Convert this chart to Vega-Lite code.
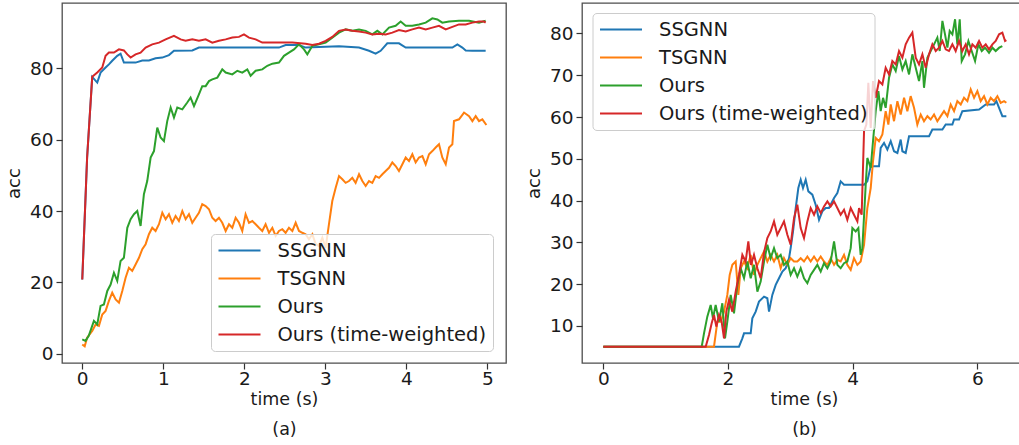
{
  "$schema": "https://vega.github.io/schema/vega-lite/v6.json",
  "padding": {"left": 4, "top": 2, "right": 0, "bottom": 0},
  "config": {
    "font": "DejaVu Sans",
    "view": {"stroke": "#4d4d4d", "strokeWidth": 1.3},
    "axis": {"grid": false, "domain": false, "tickColor": "#333333", "tickSize": 6, "tickWidth": 1.2, "labelFontSize": 18.5, "labelColor": "#1a1a1a", "labelPadding": 3, "titleFontSize": 18, "titleFontWeight": "normal", "titleColor": "#1a1a1a", "labelFlush": false, "labelOverlap": false},
    "axisY": {"titlePadding": 7, "minExtent": 32, "maxExtent": 32},
    "axisX": {"labelPadding": 0, "titlePadding": 3, "titleLineHeight": 30, "titleFontSize": 17.5},
    "legend": {"symbolType": "stroke", "symbolSize": 1764, "symbolStrokeWidth": 2, "labelFontSize": 19.5, "labelOffset": 16, "padding": 6.5, "rowPadding": 8, "clipHeight": 20, "fillColor": "rgba(255,255,255,0.8)", "strokeColor": "#cccccc", "cornerRadius": 4, "labelColor": "#1a1a1a", "labelLimit": 320}
  },
  "datasets": {
    "a": [
      {"m":"SSGNN","t":0,"a":20.8},{"m":"SSGNN","t":0.06,"a":55},{"m":"SSGNN","t":0.123,"a":77.6},{"m":"SSGNN","t":0.185,"a":76.0},{"m":"SSGNN","t":0.226,"a":78.8},{"m":"SSGNN","t":0.288,"a":80.2},{"m":"SSGNN","t":0.329,"a":81.1},{"m":"SSGNN","t":0.37,"a":82.1},{"m":"SSGNN","t":0.432,"a":83.5},{"m":"SSGNN","t":0.473,"a":84.1},{"m":"SSGNN","t":0.514,"a":81.6},{"m":"SSGNN","t":0.576,"a":81.6},{"m":"SSGNN","t":0.658,"a":81.6},{"m":"SSGNN","t":0.741,"a":82.2},{"m":"SSGNN","t":0.823,"a":82.2},{"m":"SSGNN","t":0.905,"a":82.8},{"m":"SSGNN","t":0.988,"a":83.0},{"m":"SSGNN","t":1.07,"a":83.7},{"m":"SSGNN","t":1.132,"a":84.9},{"m":"SSGNN","t":1.358,"a":85.0},{"m":"SSGNN","t":1.44,"a":85.8},{"m":"SSGNN","t":2.428,"a":85.8},{"m":"SSGNN","t":2.51,"a":86.5},{"m":"SSGNN","t":2.675,"a":86.5},{"m":"SSGNN","t":2.757,"a":85.8},{"m":"SSGNN","t":3.169,"a":86.2},{"m":"SSGNN","t":3.416,"a":85.8},{"m":"SSGNN","t":3.539,"a":84.9},{"m":"SSGNN","t":3.621,"a":84.1},{"m":"SSGNN","t":3.683,"a":84.9},{"m":"SSGNN","t":3.765,"a":87.0},{"m":"SSGNN","t":3.909,"a":87.0},{"m":"SSGNN","t":3.992,"a":85.8},{"m":"SSGNN","t":4.568,"a":85.8},{"m":"SSGNN","t":4.63,"a":86.7},{"m":"SSGNN","t":4.691,"a":85.8},{"m":"SSGNN","t":4.733,"a":85.0},{"m":"SSGNN","t":4.815,"a":84.9},{"m":"SSGNN","t":4.979,"a":84.9},
      {"m":"TSGNN","t":0,"a":2.6},{"m":"TSGNN","t":0.03,"a":2.1},{"m":"TSGNN","t":0.06,"a":4.5},{"m":"TSGNN","t":0.123,"a":6.4},{"m":"TSGNN","t":0.165,"a":8.2},{"m":"TSGNN","t":0.206,"a":7.8},{"m":"TSGNN","t":0.247,"a":11.0},{"m":"TSGNN","t":0.288,"a":12.0},{"m":"TSGNN","t":0.329,"a":14.8},{"m":"TSGNN","t":0.37,"a":17.1},{"m":"TSGNN","t":0.412,"a":15.2},{"m":"TSGNN","t":0.453,"a":14.3},{"m":"TSGNN","t":0.494,"a":17.6},{"m":"TSGNN","t":0.535,"a":21.3},{"m":"TSGNN","t":0.576,"a":24.1},{"m":"TSGNN","t":0.617,"a":23.2},{"m":"TSGNN","t":0.658,"a":25.0},{"m":"TSGNN","t":0.7,"a":26.9},{"m":"TSGNN","t":0.741,"a":29.3},{"m":"TSGNN","t":0.782,"a":30.7},{"m":"TSGNN","t":0.823,"a":33.5},{"m":"TSGNN","t":0.864,"a":35.3},{"m":"TSGNN","t":0.905,"a":34.4},{"m":"TSGNN","t":0.947,"a":36.3},{"m":"TSGNN","t":0.988,"a":39.5},{"m":"TSGNN","t":1.029,"a":37.7},{"m":"TSGNN","t":1.07,"a":39.1},{"m":"TSGNN","t":1.111,"a":36.7},{"m":"TSGNN","t":1.152,"a":38.6},{"m":"TSGNN","t":1.193,"a":37.2},{"m":"TSGNN","t":1.235,"a":40.0},{"m":"TSGNN","t":1.276,"a":37.7},{"m":"TSGNN","t":1.317,"a":39.1},{"m":"TSGNN","t":1.358,"a":36.7},{"m":"TSGNN","t":1.399,"a":38.1},{"m":"TSGNN","t":1.44,"a":39.5},{"m":"TSGNN","t":1.481,"a":41.9},{"m":"TSGNN","t":1.523,"a":41.4},{"m":"TSGNN","t":1.564,"a":40.5},{"m":"TSGNN","t":1.605,"a":38.1},{"m":"TSGNN","t":1.646,"a":37.2},{"m":"TSGNN","t":1.687,"a":38.1},{"m":"TSGNN","t":1.728,"a":36.7},{"m":"TSGNN","t":1.77,"a":34.4},{"m":"TSGNN","t":1.811,"a":36.3},{"m":"TSGNN","t":1.852,"a":35.3},{"m":"TSGNN","t":1.893,"a":38.1},{"m":"TSGNN","t":1.934,"a":36.7},{"m":"TSGNN","t":1.975,"a":34.4},{"m":"TSGNN","t":2.016,"a":39.1},{"m":"TSGNN","t":2.058,"a":36.7},{"m":"TSGNN","t":2.099,"a":37.2},{"m":"TSGNN","t":2.14,"a":36.3},{"m":"TSGNN","t":2.181,"a":35.3},{"m":"TSGNN","t":2.222,"a":34.4},{"m":"TSGNN","t":2.263,"a":36.3},{"m":"TSGNN","t":2.305,"a":33.9},{"m":"TSGNN","t":2.346,"a":35.3},{"m":"TSGNN","t":2.387,"a":33.0},{"m":"TSGNN","t":2.428,"a":34.4},{"m":"TSGNN","t":2.469,"a":34.9},{"m":"TSGNN","t":2.51,"a":33.9},{"m":"TSGNN","t":2.551,"a":35.3},{"m":"TSGNN","t":2.593,"a":34.4},{"m":"TSGNN","t":2.634,"a":36.7},{"m":"TSGNN","t":2.675,"a":34.4},{"m":"TSGNN","t":2.716,"a":33.9},{"m":"TSGNN","t":2.757,"a":33.5},{"m":"TSGNN","t":2.798,"a":32.1},{"m":"TSGNN","t":2.84,"a":33.5},{"m":"TSGNN","t":2.881,"a":30.7},{"m":"TSGNN","t":2.922,"a":30.2},{"m":"TSGNN","t":2.963,"a":32.5},{"m":"TSGNN","t":3.004,"a":29.7},{"m":"TSGNN","t":3.045,"a":36.3},{"m":"TSGNN","t":3.086,"a":42.8},{"m":"TSGNN","t":3.128,"a":46.5},{"m":"TSGNN","t":3.169,"a":49.8},{"m":"TSGNN","t":3.21,"a":48.9},{"m":"TSGNN","t":3.251,"a":47.9},{"m":"TSGNN","t":3.292,"a":48.4},{"m":"TSGNN","t":3.333,"a":49.3},{"m":"TSGNN","t":3.374,"a":47.9},{"m":"TSGNN","t":3.416,"a":50.3},{"m":"TSGNN","t":3.457,"a":48.4},{"m":"TSGNN","t":3.498,"a":47.0},{"m":"TSGNN","t":3.539,"a":48.4},{"m":"TSGNN","t":3.58,"a":47.9},{"m":"TSGNN","t":3.621,"a":49.8},{"m":"TSGNN","t":3.663,"a":49.3},{"m":"TSGNN","t":3.704,"a":50.3},{"m":"TSGNN","t":3.745,"a":51.2},{"m":"TSGNN","t":3.786,"a":52.1},{"m":"TSGNN","t":3.827,"a":53.6},{"m":"TSGNN","t":3.868,"a":52.6},{"m":"TSGNN","t":3.909,"a":51.2},{"m":"TSGNN","t":3.951,"a":53.1},{"m":"TSGNN","t":3.992,"a":55.0},{"m":"TSGNN","t":4.033,"a":54.0},{"m":"TSGNN","t":4.074,"a":55.9},{"m":"TSGNN","t":4.115,"a":53.6},{"m":"TSGNN","t":4.156,"a":55.0},{"m":"TSGNN","t":4.198,"a":55.4},{"m":"TSGNN","t":4.239,"a":53.1},{"m":"TSGNN","t":4.28,"a":55.9},{"m":"TSGNN","t":4.321,"a":56.8},{"m":"TSGNN","t":4.362,"a":57.8},{"m":"TSGNN","t":4.403,"a":58.7},{"m":"TSGNN","t":4.444,"a":55.0},{"m":"TSGNN","t":4.486,"a":53.1},{"m":"TSGNN","t":4.527,"a":57.8},{"m":"TSGNN","t":4.568,"a":58.7},{"m":"TSGNN","t":4.588,"a":65.2},{"m":"TSGNN","t":4.65,"a":65.7},{"m":"TSGNN","t":4.712,"a":67.6},{"m":"TSGNN","t":4.774,"a":66.6},{"m":"TSGNN","t":4.815,"a":65.2},{"m":"TSGNN","t":4.856,"a":66.6},{"m":"TSGNN","t":4.897,"a":65.2},{"m":"TSGNN","t":4.938,"a":65.7},{"m":"TSGNN","t":4.988,"a":64.1},
      {"m":"Ours","t":0,"a":4.0},{"m":"Ours","t":0.04,"a":3.6},{"m":"Ours","t":0.08,"a":5.0},{"m":"Ours","t":0.144,"a":9.2},{"m":"Ours","t":0.185,"a":8.2},{"m":"Ours","t":0.226,"a":13.4},{"m":"Ours","t":0.267,"a":13.8},{"m":"Ours","t":0.309,"a":17.6},{"m":"Ours","t":0.35,"a":19.4},{"m":"Ours","t":0.391,"a":22.7},{"m":"Ours","t":0.432,"a":20.4},{"m":"Ours","t":0.473,"a":26.0},{"m":"Ours","t":0.514,"a":26.9},{"m":"Ours","t":0.556,"a":35.3},{"m":"Ours","t":0.597,"a":37.7},{"m":"Ours","t":0.638,"a":39.1},{"m":"Ours","t":0.679,"a":40.0},{"m":"Ours","t":0.72,"a":35.8},{"m":"Ours","t":0.761,"a":44.7},{"m":"Ours","t":0.802,"a":48.4},{"m":"Ours","t":0.844,"a":55.0},{"m":"Ours","t":0.885,"a":56.8},{"m":"Ours","t":0.926,"a":63.4},{"m":"Ours","t":0.967,"a":60.6},{"m":"Ours","t":1.008,"a":59.6},{"m":"Ours","t":1.049,"a":65.2},{"m":"Ours","t":1.091,"a":69.0},{"m":"Ours","t":1.132,"a":66.2},{"m":"Ours","t":1.173,"a":69.0},{"m":"Ours","t":1.235,"a":68.5},{"m":"Ours","t":1.296,"a":70.4},{"m":"Ours","t":1.337,"a":71.8},{"m":"Ours","t":1.379,"a":69.4},{"m":"Ours","t":1.44,"a":72.7},{"m":"Ours","t":1.481,"a":75.0},{"m":"Ours","t":1.523,"a":75.0},{"m":"Ours","t":1.564,"a":76.4},{"m":"Ours","t":1.605,"a":76.9},{"m":"Ours","t":1.667,"a":77.4},{"m":"Ours","t":1.728,"a":79.7},{"m":"Ours","t":1.77,"a":78.8},{"m":"Ours","t":1.852,"a":78.3},{"m":"Ours","t":1.914,"a":79.3},{"m":"Ours","t":1.975,"a":78.8},{"m":"Ours","t":2.037,"a":79.7},{"m":"Ours","t":2.078,"a":77.9},{"m":"Ours","t":2.14,"a":79.3},{"m":"Ours","t":2.222,"a":79.7},{"m":"Ours","t":2.284,"a":80.7},{"m":"Ours","t":2.346,"a":81.3},{"m":"Ours","t":2.428,"a":81.6},{"m":"Ours","t":2.49,"a":83.5},{"m":"Ours","t":2.551,"a":84.4},{"m":"Ours","t":2.613,"a":85.3},{"m":"Ours","t":2.675,"a":86.7},{"m":"Ours","t":2.737,"a":85.3},{"m":"Ours","t":2.778,"a":83.9},{"m":"Ours","t":2.84,"a":86.3},{"m":"Ours","t":2.922,"a":86.7},{"m":"Ours","t":3.004,"a":87.2},{"m":"Ours","t":3.086,"a":88.6},{"m":"Ours","t":3.169,"a":90.0},{"m":"Ours","t":3.251,"a":90.9},{"m":"Ours","t":3.333,"a":90.5},{"m":"Ours","t":3.416,"a":90.9},{"m":"Ours","t":3.498,"a":90.5},{"m":"Ours","t":3.58,"a":89.5},{"m":"Ours","t":3.642,"a":90.5},{"m":"Ours","t":3.704,"a":89.5},{"m":"Ours","t":3.786,"a":91.4},{"m":"Ours","t":3.868,"a":91.9},{"m":"Ours","t":3.93,"a":93.1},{"m":"Ours","t":3.992,"a":91.9},{"m":"Ours","t":4.074,"a":91.9},{"m":"Ours","t":4.156,"a":92.3},{"m":"Ours","t":4.239,"a":92.8},{"m":"Ours","t":4.321,"a":94.0},{"m":"Ours","t":4.383,"a":93.7},{"m":"Ours","t":4.444,"a":92.8},{"m":"Ours","t":4.527,"a":93.1},{"m":"Ours","t":4.65,"a":93.3},{"m":"Ours","t":4.774,"a":93.3},{"m":"Ours","t":4.897,"a":92.8},{"m":"Ours","t":4.979,"a":93.3},
      {"m":"Ours (time-weighted)","t":0,"a":20.8},{"m":"Ours (time-weighted)","t":0.06,"a":55},{"m":"Ours (time-weighted)","t":0.123,"a":77.6},{"m":"Ours (time-weighted)","t":0.185,"a":78.8},{"m":"Ours (time-weighted)","t":0.247,"a":80.2},{"m":"Ours (time-weighted)","t":0.288,"a":83.5},{"m":"Ours (time-weighted)","t":0.329,"a":84.4},{"m":"Ours (time-weighted)","t":0.391,"a":84.4},{"m":"Ours (time-weighted)","t":0.453,"a":85.3},{"m":"Ours (time-weighted)","t":0.514,"a":85.0},{"m":"Ours (time-weighted)","t":0.556,"a":83.9},{"m":"Ours (time-weighted)","t":0.597,"a":83.0},{"m":"Ours (time-weighted)","t":0.658,"a":83.9},{"m":"Ours (time-weighted)","t":0.72,"a":84.4},{"m":"Ours (time-weighted)","t":0.782,"a":85.8},{"m":"Ours (time-weighted)","t":0.864,"a":86.7},{"m":"Ours (time-weighted)","t":0.947,"a":87.2},{"m":"Ours (time-weighted)","t":1.029,"a":88.1},{"m":"Ours (time-weighted)","t":1.132,"a":89.1},{"m":"Ours (time-weighted)","t":1.214,"a":88.1},{"m":"Ours (time-weighted)","t":1.276,"a":87.7},{"m":"Ours (time-weighted)","t":1.358,"a":88.1},{"m":"Ours (time-weighted)","t":1.44,"a":87.7},{"m":"Ours (time-weighted)","t":1.523,"a":88.1},{"m":"Ours (time-weighted)","t":1.605,"a":87.2},{"m":"Ours (time-weighted)","t":1.687,"a":87.7},{"m":"Ours (time-weighted)","t":1.77,"a":88.1},{"m":"Ours (time-weighted)","t":1.852,"a":88.6},{"m":"Ours (time-weighted)","t":1.934,"a":88.8},{"m":"Ours (time-weighted)","t":1.996,"a":89.5},{"m":"Ours (time-weighted)","t":2.058,"a":88.6},{"m":"Ours (time-weighted)","t":2.14,"a":88.1},{"m":"Ours (time-weighted)","t":2.222,"a":87.2},{"m":"Ours (time-weighted)","t":2.346,"a":87.2},{"m":"Ours (time-weighted)","t":2.593,"a":87.2},{"m":"Ours (time-weighted)","t":2.757,"a":86.9},{"m":"Ours (time-weighted)","t":2.84,"a":86.5},{"m":"Ours (time-weighted)","t":2.922,"a":86.9},{"m":"Ours (time-weighted)","t":3.004,"a":87.7},{"m":"Ours (time-weighted)","t":3.086,"a":88.8},{"m":"Ours (time-weighted)","t":3.169,"a":90.5},{"m":"Ours (time-weighted)","t":3.251,"a":90.9},{"m":"Ours (time-weighted)","t":3.333,"a":90.5},{"m":"Ours (time-weighted)","t":3.416,"a":90.3},{"m":"Ours (time-weighted)","t":3.498,"a":90.0},{"m":"Ours (time-weighted)","t":3.58,"a":89.5},{"m":"Ours (time-weighted)","t":3.663,"a":89.7},{"m":"Ours (time-weighted)","t":3.745,"a":89.5},{"m":"Ours (time-weighted)","t":3.827,"a":90.0},{"m":"Ours (time-weighted)","t":3.909,"a":90.7},{"m":"Ours (time-weighted)","t":3.992,"a":90.3},{"m":"Ours (time-weighted)","t":4.074,"a":90.9},{"m":"Ours (time-weighted)","t":4.156,"a":91.4},{"m":"Ours (time-weighted)","t":4.239,"a":90.9},{"m":"Ours (time-weighted)","t":4.321,"a":91.4},{"m":"Ours (time-weighted)","t":4.403,"a":91.9},{"m":"Ours (time-weighted)","t":4.486,"a":90.9},{"m":"Ours (time-weighted)","t":4.568,"a":91.6},{"m":"Ours (time-weighted)","t":4.65,"a":92.3},{"m":"Ours (time-weighted)","t":4.733,"a":92.3},{"m":"Ours (time-weighted)","t":4.815,"a":92.8},{"m":"Ours (time-weighted)","t":4.897,"a":93.1},{"m":"Ours (time-weighted)","t":4.959,"a":93.1},{"m":"Ours (time-weighted)","t":4.979,"a":92.8}
    ],
    "b": [
      {"m":"SSGNN","t":0,"a":5},{"m":"SSGNN","t":2.176,"a":5},{"m":"SSGNN","t":2.23,"a":7.0},{"m":"SSGNN","t":2.257,"a":8.2},{"m":"SSGNN","t":2.364,"a":8.2},{"m":"SSGNN","t":2.39,"a":11.8},{"m":"SSGNN","t":2.444,"a":13.4},{"m":"SSGNN","t":2.497,"a":15.8},{"m":"SSGNN","t":2.578,"a":17.0},{"m":"SSGNN","t":2.631,"a":16.6},{"m":"SSGNN","t":2.658,"a":13.4},{"m":"SSGNN","t":2.711,"a":17.4},{"m":"SSGNN","t":2.765,"a":19.8},{"m":"SSGNN","t":2.818,"a":21.4},{"m":"SSGNN","t":2.872,"a":23.0},{"m":"SSGNN","t":2.925,"a":23.8},{"m":"SSGNN","t":2.979,"a":26.2},{"m":"SSGNN","t":3.005,"a":28.6},{"m":"SSGNN","t":3.043,"a":32.6},{"m":"SSGNN","t":3.086,"a":38.2},{"m":"SSGNN","t":3.128,"a":43.0},{"m":"SSGNN","t":3.166,"a":45.0},{"m":"SSGNN","t":3.203,"a":43.0},{"m":"SSGNN","t":3.246,"a":45.0},{"m":"SSGNN","t":3.289,"a":42.2},{"m":"SSGNN","t":3.353,"a":41.4},{"m":"SSGNN","t":3.406,"a":39.0},{"m":"SSGNN","t":3.46,"a":35.4},{"m":"SSGNN","t":3.513,"a":37.4},{"m":"SSGNN","t":3.567,"a":38.2},{"m":"SSGNN","t":3.62,"a":38.2},{"m":"SSGNN","t":3.701,"a":40.6},{"m":"SSGNN","t":3.754,"a":41.8},{"m":"SSGNN","t":3.807,"a":44.6},{"m":"SSGNN","t":3.861,"a":43.8},{"m":"SSGNN","t":4.182,"a":43.8},{"m":"SSGNN","t":4.235,"a":44.6},{"m":"SSGNN","t":4.289,"a":48.2},{"m":"SSGNN","t":4.422,"a":48.2},{"m":"SSGNN","t":4.449,"a":52.6},{"m":"SSGNN","t":4.503,"a":53.8},{"m":"SSGNN","t":4.556,"a":52.2},{"m":"SSGNN","t":4.61,"a":54.2},{"m":"SSGNN","t":4.663,"a":51.8},{"m":"SSGNN","t":4.717,"a":51.4},{"m":"SSGNN","t":4.77,"a":54.6},{"m":"SSGNN","t":4.797,"a":51.8},{"m":"SSGNN","t":4.85,"a":51.4},{"m":"SSGNN","t":4.904,"a":55.4},{"m":"SSGNN","t":5.225,"a":55.4},{"m":"SSGNN","t":5.278,"a":57.0},{"m":"SSGNN","t":5.439,"a":57.0},{"m":"SSGNN","t":5.492,"a":58.2},{"m":"SSGNN","t":5.599,"a":58.2},{"m":"SSGNN","t":5.626,"a":59.4},{"m":"SSGNN","t":5.706,"a":59.4},{"m":"SSGNN","t":5.759,"a":61.4},{"m":"SSGNN","t":6.027,"a":61.8},{"m":"SSGNN","t":6.134,"a":63.0},{"m":"SSGNN","t":6.267,"a":63.0},{"m":"SSGNN","t":6.305,"a":63.8},{"m":"SSGNN","t":6.348,"a":62.2},{"m":"SSGNN","t":6.401,"a":60.2},{"m":"SSGNN","t":6.465,"a":60.2},
      {"m":"TSGNN","t":0,"a":5},{"m":"TSGNN","t":1.775,"a":5},{"m":"TSGNN","t":1.829,"a":11.0},{"m":"TSGNN","t":1.882,"a":11.0},{"m":"TSGNN","t":1.936,"a":13.4},{"m":"TSGNN","t":1.989,"a":17.4},{"m":"TSGNN","t":2.027,"a":22.2},{"m":"TSGNN","t":2.07,"a":24.6},{"m":"TSGNN","t":2.123,"a":25.4},{"m":"TSGNN","t":2.166,"a":17.4},{"m":"TSGNN","t":2.203,"a":23.8},{"m":"TSGNN","t":2.257,"a":25.4},{"m":"TSGNN","t":2.31,"a":23.8},{"m":"TSGNN","t":2.364,"a":27.0},{"m":"TSGNN","t":2.417,"a":22.2},{"m":"TSGNN","t":2.471,"a":24.6},{"m":"TSGNN","t":2.524,"a":26.2},{"m":"TSGNN","t":2.578,"a":27.8},{"m":"TSGNN","t":2.631,"a":25.4},{"m":"TSGNN","t":2.684,"a":27.0},{"m":"TSGNN","t":2.738,"a":25.4},{"m":"TSGNN","t":2.791,"a":27.0},{"m":"TSGNN","t":2.845,"a":23.8},{"m":"TSGNN","t":2.898,"a":26.2},{"m":"TSGNN","t":2.952,"a":24.6},{"m":"TSGNN","t":3.005,"a":26.2},{"m":"TSGNN","t":3.059,"a":25.4},{"m":"TSGNN","t":3.112,"a":25.4},{"m":"TSGNN","t":3.166,"a":26.2},{"m":"TSGNN","t":3.219,"a":25.4},{"m":"TSGNN","t":3.273,"a":26.6},{"m":"TSGNN","t":3.326,"a":25.4},{"m":"TSGNN","t":3.38,"a":26.6},{"m":"TSGNN","t":3.433,"a":25.4},{"m":"TSGNN","t":3.487,"a":26.6},{"m":"TSGNN","t":3.54,"a":25.4},{"m":"TSGNN","t":3.594,"a":24.6},{"m":"TSGNN","t":3.647,"a":26.2},{"m":"TSGNN","t":3.701,"a":24.6},{"m":"TSGNN","t":3.754,"a":25.8},{"m":"TSGNN","t":3.807,"a":25.4},{"m":"TSGNN","t":3.861,"a":27.0},{"m":"TSGNN","t":3.914,"a":24.6},{"m":"TSGNN","t":3.968,"a":23.4},{"m":"TSGNN","t":4.021,"a":26.2},{"m":"TSGNN","t":4.075,"a":24.6},{"m":"TSGNN","t":4.128,"a":25.4},{"m":"TSGNN","t":4.182,"a":29.4},{"m":"TSGNN","t":4.235,"a":38.2},{"m":"TSGNN","t":4.289,"a":43.0},{"m":"TSGNN","t":4.326,"a":49.4},{"m":"TSGNN","t":4.369,"a":55.0},{"m":"TSGNN","t":4.422,"a":54.2},{"m":"TSGNN","t":4.476,"a":55.8},{"m":"TSGNN","t":4.529,"a":61.4},{"m":"TSGNN","t":4.572,"a":58.2},{"m":"TSGNN","t":4.61,"a":63.0},{"m":"TSGNN","t":4.663,"a":59.0},{"m":"TSGNN","t":4.717,"a":63.8},{"m":"TSGNN","t":4.77,"a":60.6},{"m":"TSGNN","t":4.824,"a":64.6},{"m":"TSGNN","t":4.877,"a":61.4},{"m":"TSGNN","t":4.93,"a":65.0},{"m":"TSGNN","t":4.984,"a":62.2},{"m":"TSGNN","t":5.037,"a":58.2},{"m":"TSGNN","t":5.091,"a":60.6},{"m":"TSGNN","t":5.144,"a":59.0},{"m":"TSGNN","t":5.198,"a":60.2},{"m":"TSGNN","t":5.251,"a":59.4},{"m":"TSGNN","t":5.305,"a":60.6},{"m":"TSGNN","t":5.358,"a":59.0},{"m":"TSGNN","t":5.412,"a":60.2},{"m":"TSGNN","t":5.465,"a":61.4},{"m":"TSGNN","t":5.519,"a":60.2},{"m":"TSGNN","t":5.572,"a":63.0},{"m":"TSGNN","t":5.626,"a":61.4},{"m":"TSGNN","t":5.679,"a":63.8},{"m":"TSGNN","t":5.733,"a":63.0},{"m":"TSGNN","t":5.786,"a":64.6},{"m":"TSGNN","t":5.84,"a":63.8},{"m":"TSGNN","t":5.893,"a":66.6},{"m":"TSGNN","t":5.947,"a":64.6},{"m":"TSGNN","t":6.0,"a":66.2},{"m":"TSGNN","t":6.053,"a":63.8},{"m":"TSGNN","t":6.107,"a":65.0},{"m":"TSGNN","t":6.16,"a":63.0},{"m":"TSGNN","t":6.214,"a":64.6},{"m":"TSGNN","t":6.267,"a":63.8},{"m":"TSGNN","t":6.321,"a":65.0},{"m":"TSGNN","t":6.374,"a":63.4},{"m":"TSGNN","t":6.428,"a":63.8},{"m":"TSGNN","t":6.465,"a":63.4},
      {"m":"Ours","t":0,"a":5},{"m":"Ours","t":1.578,"a":5},{"m":"Ours","t":1.615,"a":8.2},{"m":"Ours","t":1.668,"a":12.2},{"m":"Ours","t":1.722,"a":15.0},{"m":"Ours","t":1.759,"a":11.8},{"m":"Ours","t":1.802,"a":15.0},{"m":"Ours","t":1.856,"a":11.0},{"m":"Ours","t":1.909,"a":15.4},{"m":"Ours","t":1.952,"a":7.0},{"m":"Ours","t":1.989,"a":11.0},{"m":"Ours","t":2.043,"a":17.4},{"m":"Ours","t":2.096,"a":13.0},{"m":"Ours","t":2.15,"a":19.8},{"m":"Ours","t":2.203,"a":23.8},{"m":"Ours","t":2.257,"a":21.4},{"m":"Ours","t":2.31,"a":25.4},{"m":"Ours","t":2.364,"a":21.4},{"m":"Ours","t":2.417,"a":24.6},{"m":"Ours","t":2.471,"a":18.2},{"m":"Ours","t":2.524,"a":20.6},{"m":"Ours","t":2.578,"a":25.4},{"m":"Ours","t":2.631,"a":29.4},{"m":"Ours","t":2.684,"a":26.2},{"m":"Ours","t":2.738,"a":28.6},{"m":"Ours","t":2.791,"a":26.2},{"m":"Ours","t":2.845,"a":27.0},{"m":"Ours","t":2.898,"a":24.6},{"m":"Ours","t":2.952,"a":25.4},{"m":"Ours","t":3.005,"a":22.2},{"m":"Ours","t":3.059,"a":23.8},{"m":"Ours","t":3.112,"a":21.8},{"m":"Ours","t":3.166,"a":23.8},{"m":"Ours","t":3.219,"a":21.4},{"m":"Ours","t":3.273,"a":20.2},{"m":"Ours","t":3.326,"a":22.2},{"m":"Ours","t":3.38,"a":23.4},{"m":"Ours","t":3.433,"a":24.6},{"m":"Ours","t":3.487,"a":23.0},{"m":"Ours","t":3.54,"a":25.0},{"m":"Ours","t":3.594,"a":23.8},{"m":"Ours","t":3.647,"a":25.4},{"m":"Ours","t":3.701,"a":30.2},{"m":"Ours","t":3.754,"a":24.6},{"m":"Ours","t":3.807,"a":23.8},{"m":"Ours","t":3.861,"a":25.0},{"m":"Ours","t":3.914,"a":25.4},{"m":"Ours","t":3.968,"a":28.6},{"m":"Ours","t":3.995,"a":33.4},{"m":"Ours","t":4.048,"a":32.6},{"m":"Ours","t":4.091,"a":33.4},{"m":"Ours","t":4.128,"a":27.0},{"m":"Ours","t":4.155,"a":28.6},{"m":"Ours","t":4.209,"a":43.8},{"m":"Ours","t":4.235,"a":50.2},{"m":"Ours","t":4.289,"a":47.8},{"m":"Ours","t":4.326,"a":54.2},{"m":"Ours","t":4.369,"a":61.4},{"m":"Ours","t":4.412,"a":66.2},{"m":"Ours","t":4.449,"a":61.4},{"m":"Ours","t":4.487,"a":64.6},{"m":"Ours","t":4.529,"a":62.2},{"m":"Ours","t":4.583,"a":69.4},{"m":"Ours","t":4.636,"a":72.6},{"m":"Ours","t":4.69,"a":71.0},{"m":"Ours","t":4.743,"a":74.6},{"m":"Ours","t":4.797,"a":71.4},{"m":"Ours","t":4.85,"a":73.4},{"m":"Ours","t":4.904,"a":70.2},{"m":"Ours","t":4.957,"a":75.0},{"m":"Ours","t":5.011,"a":71.8},{"m":"Ours","t":5.064,"a":68.6},{"m":"Ours","t":5.118,"a":73.4},{"m":"Ours","t":5.144,"a":67.0},{"m":"Ours","t":5.198,"a":74.2},{"m":"Ours","t":5.251,"a":75.8},{"m":"Ours","t":5.305,"a":77.4},{"m":"Ours","t":5.358,"a":79.0},{"m":"Ours","t":5.396,"a":75.8},{"m":"Ours","t":5.439,"a":83.0},{"m":"Ours","t":5.481,"a":79.8},{"m":"Ours","t":5.519,"a":76.6},{"m":"Ours","t":5.556,"a":80.6},{"m":"Ours","t":5.599,"a":79.8},{"m":"Ours","t":5.642,"a":83.4},{"m":"Ours","t":5.679,"a":77.4},{"m":"Ours","t":5.717,"a":83.4},{"m":"Ours","t":5.749,"a":73.4},{"m":"Ours","t":5.802,"a":75.0},{"m":"Ours","t":5.856,"a":78.2},{"m":"Ours","t":5.909,"a":75.8},{"m":"Ours","t":5.963,"a":73.4},{"m":"Ours","t":6.016,"a":77.4},{"m":"Ours","t":6.07,"a":75.8},{"m":"Ours","t":6.123,"a":76.6},{"m":"Ours","t":6.187,"a":75.4},{"m":"Ours","t":6.241,"a":76.6},{"m":"Ours","t":6.294,"a":75.8},{"m":"Ours","t":6.35,"a":76.6},{"m":"Ours","t":6.4,"a":77.0},
      {"m":"Ours (time-weighted)","t":0,"a":5},{"m":"Ours (time-weighted)","t":1.642,"a":5},{"m":"Ours (time-weighted)","t":1.695,"a":7.8},{"m":"Ours (time-weighted)","t":1.738,"a":10.6},{"m":"Ours (time-weighted)","t":1.775,"a":12.6},{"m":"Ours (time-weighted)","t":1.813,"a":9.8},{"m":"Ours (time-weighted)","t":1.856,"a":12.6},{"m":"Ours (time-weighted)","t":1.898,"a":11.0},{"m":"Ours (time-weighted)","t":1.936,"a":7.0},{"m":"Ours (time-weighted)","t":1.973,"a":13.4},{"m":"Ours (time-weighted)","t":2.016,"a":16.2},{"m":"Ours (time-weighted)","t":2.07,"a":13.4},{"m":"Ours (time-weighted)","t":2.123,"a":18.2},{"m":"Ours (time-weighted)","t":2.176,"a":22.2},{"m":"Ours (time-weighted)","t":2.23,"a":27.0},{"m":"Ours (time-weighted)","t":2.283,"a":25.4},{"m":"Ours (time-weighted)","t":2.326,"a":30.2},{"m":"Ours (time-weighted)","t":2.369,"a":24.6},{"m":"Ours (time-weighted)","t":2.417,"a":27.0},{"m":"Ours (time-weighted)","t":2.471,"a":23.8},{"m":"Ours (time-weighted)","t":2.524,"a":21.4},{"m":"Ours (time-weighted)","t":2.578,"a":27.6},{"m":"Ours (time-weighted)","t":2.631,"a":31.0},{"m":"Ours (time-weighted)","t":2.684,"a":32.6},{"m":"Ours (time-weighted)","t":2.738,"a":35.0},{"m":"Ours (time-weighted)","t":2.791,"a":31.8},{"m":"Ours (time-weighted)","t":2.845,"a":33.4},{"m":"Ours (time-weighted)","t":2.898,"a":35.0},{"m":"Ours (time-weighted)","t":2.952,"a":31.8},{"m":"Ours (time-weighted)","t":3.005,"a":29.4},{"m":"Ours (time-weighted)","t":3.059,"a":35.8},{"m":"Ours (time-weighted)","t":3.112,"a":39.0},{"m":"Ours (time-weighted)","t":3.166,"a":33.4},{"m":"Ours (time-weighted)","t":3.219,"a":31.0},{"m":"Ours (time-weighted)","t":3.273,"a":35.0},{"m":"Ours (time-weighted)","t":3.326,"a":38.2},{"m":"Ours (time-weighted)","t":3.38,"a":36.6},{"m":"Ours (time-weighted)","t":3.433,"a":38.6},{"m":"Ours (time-weighted)","t":3.487,"a":37.0},{"m":"Ours (time-weighted)","t":3.54,"a":38.6},{"m":"Ours (time-weighted)","t":3.594,"a":39.8},{"m":"Ours (time-weighted)","t":3.647,"a":38.6},{"m":"Ours (time-weighted)","t":3.701,"a":39.8},{"m":"Ours (time-weighted)","t":3.754,"a":38.2},{"m":"Ours (time-weighted)","t":3.807,"a":36.6},{"m":"Ours (time-weighted)","t":3.861,"a":37.8},{"m":"Ours (time-weighted)","t":3.914,"a":35.4},{"m":"Ours (time-weighted)","t":3.968,"a":38.2},{"m":"Ours (time-weighted)","t":4.021,"a":36.6},{"m":"Ours (time-weighted)","t":4.075,"a":35.0},{"m":"Ours (time-weighted)","t":4.102,"a":38.2},{"m":"Ours (time-weighted)","t":4.144,"a":36.6},{"m":"Ours (time-weighted)","t":4.182,"a":56.6},{"m":"Ours (time-weighted)","t":4.219,"a":58.2},{"m":"Ours (time-weighted)","t":4.251,"a":68.2},{"m":"Ours (time-weighted)","t":4.289,"a":57.4},{"m":"Ours (time-weighted)","t":4.326,"a":68.6},{"m":"Ours (time-weighted)","t":4.369,"a":64.6},{"m":"Ours (time-weighted)","t":4.422,"a":68.6},{"m":"Ours (time-weighted)","t":4.476,"a":67.8},{"m":"Ours (time-weighted)","t":4.529,"a":71.8},{"m":"Ours (time-weighted)","t":4.583,"a":70.2},{"m":"Ours (time-weighted)","t":4.636,"a":73.4},{"m":"Ours (time-weighted)","t":4.69,"a":72.6},{"m":"Ours (time-weighted)","t":4.743,"a":75.8},{"m":"Ours (time-weighted)","t":4.797,"a":74.2},{"m":"Ours (time-weighted)","t":4.85,"a":77.4},{"m":"Ours (time-weighted)","t":4.904,"a":79.0},{"m":"Ours (time-weighted)","t":4.957,"a":80.2},{"m":"Ours (time-weighted)","t":5.011,"a":74.2},{"m":"Ours (time-weighted)","t":5.064,"a":72.6},{"m":"Ours (time-weighted)","t":5.118,"a":75.0},{"m":"Ours (time-weighted)","t":5.171,"a":71.8},{"m":"Ours (time-weighted)","t":5.225,"a":75.0},{"m":"Ours (time-weighted)","t":5.278,"a":77.4},{"m":"Ours (time-weighted)","t":5.332,"a":75.8},{"m":"Ours (time-weighted)","t":5.385,"a":76.6},{"m":"Ours (time-weighted)","t":5.439,"a":78.2},{"m":"Ours (time-weighted)","t":5.492,"a":76.2},{"m":"Ours (time-weighted)","t":5.545,"a":75.8},{"m":"Ours (time-weighted)","t":5.599,"a":77.4},{"m":"Ours (time-weighted)","t":5.652,"a":75.8},{"m":"Ours (time-weighted)","t":5.706,"a":78.2},{"m":"Ours (time-weighted)","t":5.759,"a":75.8},{"m":"Ours (time-weighted)","t":5.813,"a":77.4},{"m":"Ours (time-weighted)","t":5.866,"a":75.0},{"m":"Ours (time-weighted)","t":5.92,"a":77.4},{"m":"Ours (time-weighted)","t":5.973,"a":76.6},{"m":"Ours (time-weighted)","t":6.027,"a":78.2},{"m":"Ours (time-weighted)","t":6.08,"a":76.6},{"m":"Ours (time-weighted)","t":6.134,"a":77.4},{"m":"Ours (time-weighted)","t":6.187,"a":76.2},{"m":"Ours (time-weighted)","t":6.241,"a":77.4},{"m":"Ours (time-weighted)","t":6.294,"a":78.2},{"m":"Ours (time-weighted)","t":6.348,"a":79.8},{"m":"Ours (time-weighted)","t":6.401,"a":80.2},{"m":"Ours (time-weighted)","t":6.444,"a":78.2},{"m":"Ours (time-weighted)","t":6.465,"a":78.4}
    ]
  },
  "hconcat": [
    {
      "width": 444,
      "height": 360,
      "data": {"name": "a"},
      "mark": {"type": "line", "strokeWidth": 2},
      "encoding": {
        "x": {"field": "t", "type": "quantitative", "scale": {"domain": [-0.25, 5.23], "nice": false, "zero": false}, "axis": {"values": [0, 1, 2, 3, 4, 5], "title": ["time (s)", "(a)"]}},
        "y": {"field": "a", "type": "quantitative", "scale": {"domain": [-2.6, 98.3], "nice": false, "zero": false}, "axis": {"values": [0, 20, 40, 60, 80], "title": "acc"}},
        "color": {"field": "m", "type": "nominal", "sort": null,
          "scale": {"domain": ["SSGNN", "TSGNN", "Ours", "Ours (time-weighted)"], "range": ["#1f77b4", "#ff7f0e", "#2ca02c", "#d62728"]},
          "legend": {"title": null, "orient": "none", "legendX": 149, "legendY": 231}}
      }
    },
    {
      "width": 444,
      "height": 360,
      "data": {"name": "b"},
      "mark": {"type": "line", "strokeWidth": 2},
      "encoding": {
        "x": {"field": "t", "type": "quantitative", "scale": {"domain": [-0.342, 6.78], "nice": false, "zero": false}, "axis": {"values": [0, 2, 4, 6], "title": ["time (s)", "(b)"]}},
        "y": {"field": "a", "type": "quantitative", "scale": {"domain": [1.1, 87.3], "nice": false, "zero": false}, "axis": {"values": [10, 20, 30, 40, 50, 60, 70, 80], "title": "acc"}},
        "color": {"field": "m", "type": "nominal", "sort": null,
          "scale": {"domain": ["SSGNN", "TSGNN", "Ours", "Ours (time-weighted)"], "range": ["#1f77b4", "#ff7f0e", "#2ca02c", "#d62728"]},
          "legend": {"title": null, "orient": "none", "legendX": 10.5, "legendY": 10}}
      }
    }
  ],
  "spacing": 17,
  "resolve": {"legend": {"color": "independent"}}
}
